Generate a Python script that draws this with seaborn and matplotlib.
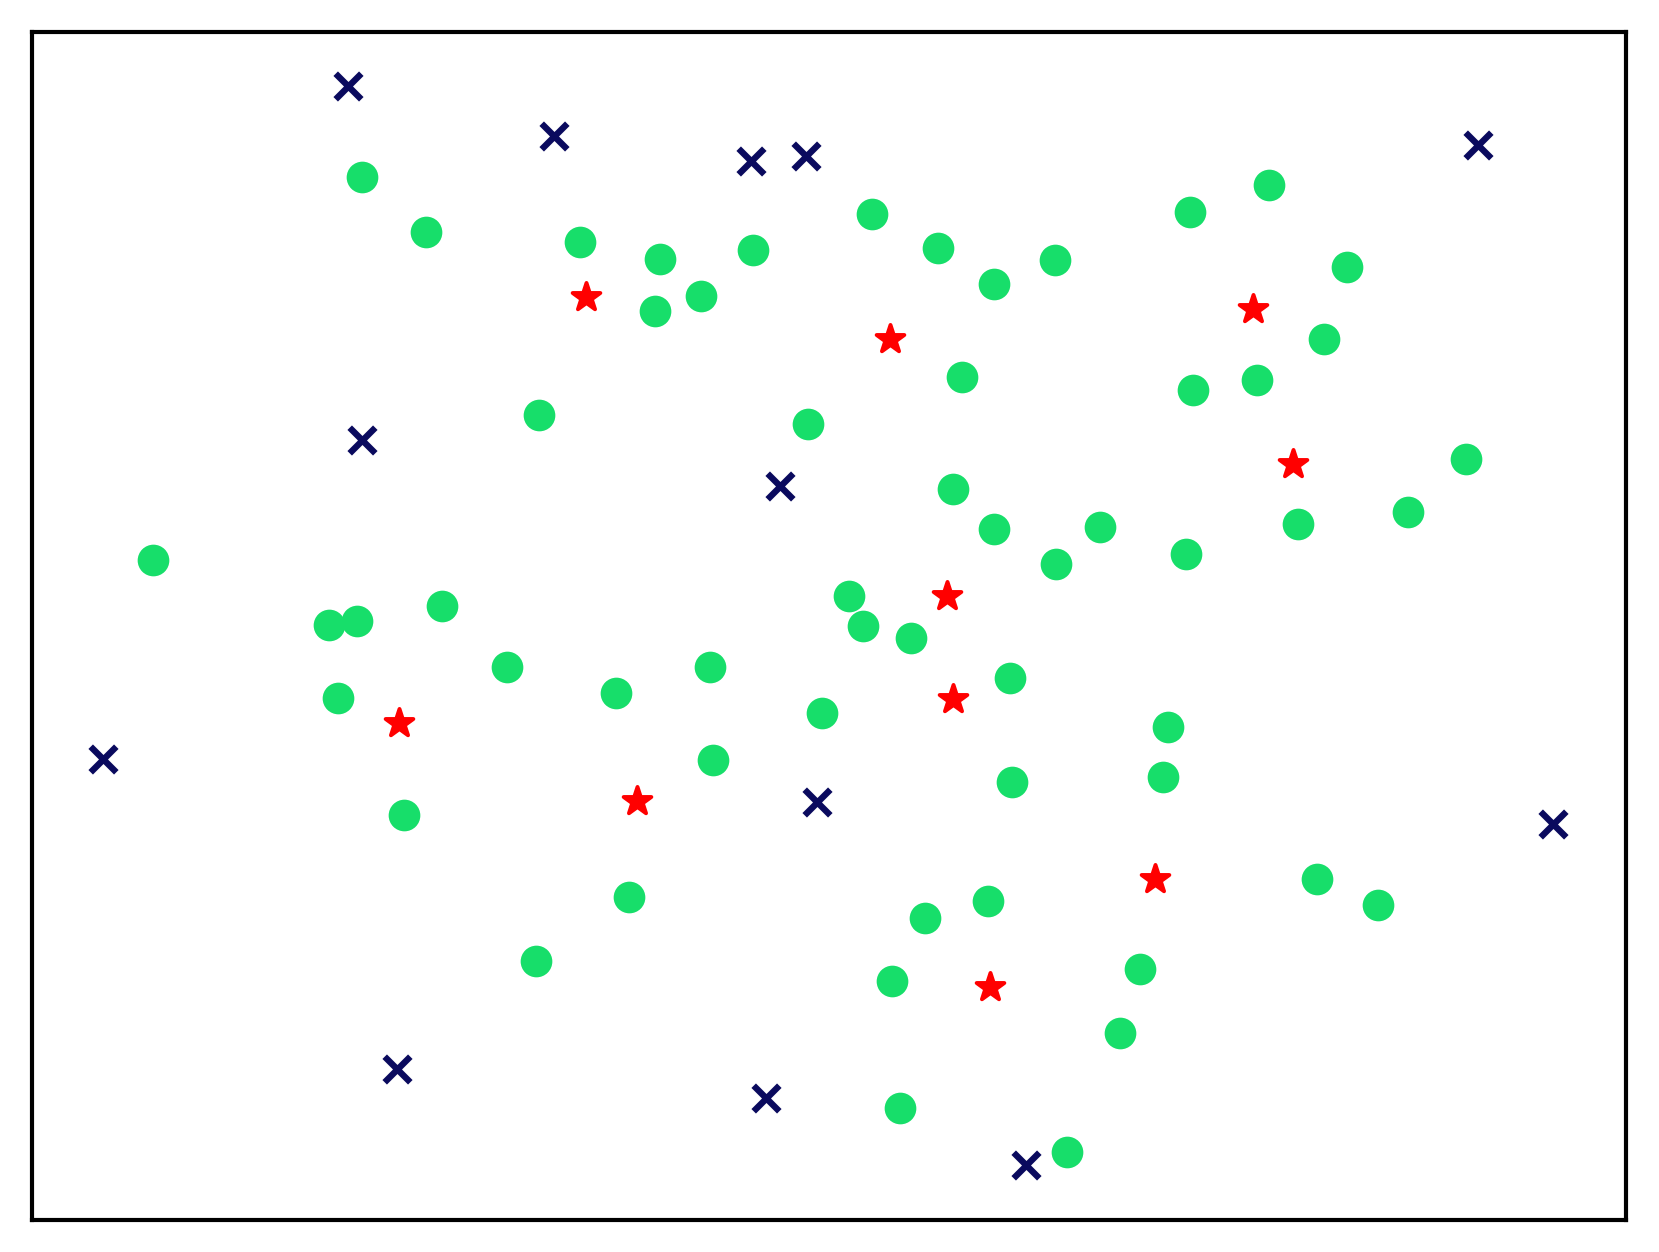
import numpy as np
import pandas as pd
import seaborn as sns
import matplotlib
matplotlib.use("Agg")
import matplotlib.pyplot as plt

sns.set_style("white")

# point positions (x to the right, y downward)
green_x = [342, 403, 548, 624, 712, 824, 887, 940, 997, 1125, 1200, 1273, 619, 663,
           1252, 909, 1128, 1188, 510, 764, 1386, 901, 940, 1040, 998, 1121, 1227, 1331,
           145, 311, 338, 418, 803, 816, 861, 479, 582, 671, 320, 777, 955, 1104, 674,
           957, 1099, 382, 595, 874, 934, 1245, 1303, 507, 843, 1078, 1059, 851, 1009]
green_y = [167, 219, 229, 245, 236, 202, 234, 268, 246, 200, 175, 252, 294, 280,
           320, 356, 369, 359, 392, 401, 434, 462, 500, 498, 533, 524, 495, 484,
           529, 591, 587, 573, 563, 592, 603, 630, 655, 630, 660, 674, 641, 687, 718,
           739, 734, 770, 848, 868, 852, 831, 855, 908, 927, 916, 976, 1047, 1089]

navy_x = [329, 524, 710, 762, 1397, 342, 737, 98, 772, 1468, 375, 724, 970]
navy_y = [81, 129, 152, 147, 137, 416, 459, 717, 758, 779, 1010, 1038, 1101]

red_x = [554, 841, 1184, 1222, 895, 901, 377, 602, 1092, 936]
red_y = [281, 320, 292, 439, 563, 661, 683, 757, 831, 933]

green = pd.DataFrame({"x": green_x, "y": green_y})
navy = pd.DataFrame({"x": navy_x, "y": navy_y})
red = pd.DataFrame({"x": red_x, "y": red_y})

fig = plt.figure(figsize=(8.295, 6.26), dpi=200)
ax = fig.add_axes([0.0191, 0.0256, 0.9609, 0.9489])

sns.scatterplot(data=green, x="x", y="y", ax=ax, marker="o", s=130,
                color="#17de6a", linewidth=0)
sns.scatterplot(data=navy, x="x", y="y", ax=ax, marker="x", s=85,
                color="#0a0a5e", linewidth=2.3)
sns.scatterplot(data=red, x="x", y="y", ax=ax, marker="*", s=110,
                color="#ff0000", edgecolor="#ff0000", linewidth=1.4)

ax.set_xlim(30.2, 1536.8)
ax.set_ylim(1153, 30.2)
ax.set_xticks([])
ax.set_yticks([])
ax.set_xlabel("")
ax.set_ylabel("")
for sp in ax.spines.values():
    sp.set_visible(True)
    sp.set_color("black")
    sp.set_linewidth(1.5)

fig.savefig("out.png", dpi=200)
